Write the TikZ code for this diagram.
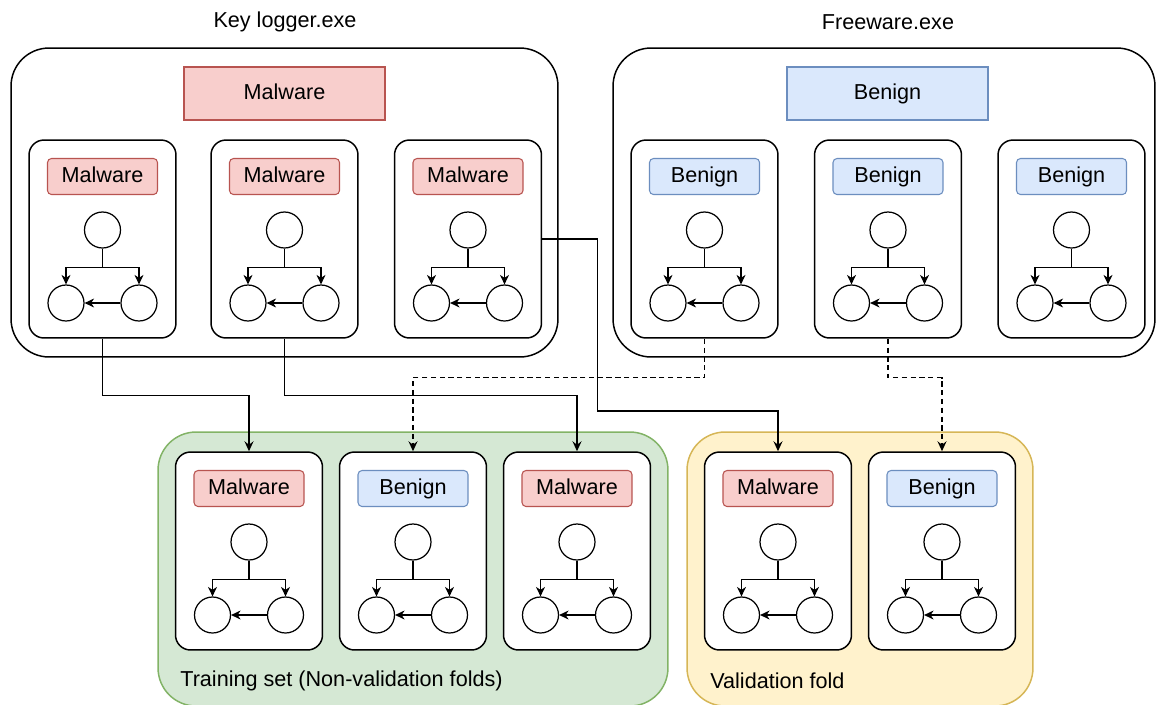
\documentclass[tikz,border=0pt]{standalone}
\usepackage{fontspec}
\setmainfont{Liberation Sans}
\usetikzlibrary{arrows.meta}

\definecolor{mal-fill}{HTML}{F8CECC}
\definecolor{mal-line}{HTML}{B85450}
\definecolor{ben-fill}{HTML}{DAE8FC}
\definecolor{ben-line}{HTML}{6C8EBF}
\definecolor{train-fill}{HTML}{D5E8D4}
\definecolor{train-line}{HTML}{82B366}
\definecolor{valid-fill}{HTML}{FFF2CC}
\definecolor{valid-line}{HTML}{D6B656}

\tikzset{
    every node/.style={font=\fontsize{12.3}{14}\selectfont},
    group/.style={draw,line width=0.85pt,rounded corners=0.76cm,inner sep=0pt},
    sample/.style={draw,fill=white,line width=0.85pt,rounded corners=0.3cm,inner sep=0pt,
                   minimum width=2.94cm,minimum height=3.96cm},
    label box/.style={line width=0.6pt,text height=9pt,text depth=2.6pt},
    tag/.style={label box,rounded corners=0.08cm,minimum width=2.2cm,minimum height=0.72cm},
    vertex/.style={draw,circle,line width=0.7pt,minimum size=0.72cm,inner sep=0pt},
    edge/.style={line width=0.7pt,-{Stealth[length=1.9mm,width=1.8mm,inset=0.6mm]}},
    flow/.style={line width=0.75pt,-{Stealth[length=2mm,width=1.8mm,inset=0.7mm]}},
}

\begin{document}
\begin{tikzpicture}[x=0.02cm,y=-0.02cm]
        \useasboundingbox (0,0) rectangle (1157,704);

        % Executables and folds
        \node (keylogger) at (284.5,202.5) [group,minimum width=10.94cm,minimum height=6.18cm] {};
        \node (freeware)  at (884,202.5)   [group,minimum width=10.84cm,minimum height=6.18cm] {};
        \node (train)     at (413,569)     [group,draw=train-line,fill=train-fill,minimum width=10.2cm,minimum height=5.48cm] {};
        \node (valid)     at (860,569)     [group,draw=valid-line,fill=valid-fill,minimum width=6.92cm,minimum height=5.48cm] {};

        \node (keytitle)   at (285,22) {Key logger.exe};
        \node (freetitle)  at (888,22) {Freeware.exe};
        \node (trainlabel) at (180,681) [anchor=west,inner sep=0pt] {Training set (Non-validation folds)};
        \node (validlabel) at (710,681) [anchor=west,inner sep=0pt] {Validation fold};

        \node (keyclass)  at (284.5,93.5) [label box,draw=mal-line,fill=mal-fill,minimum width=4.02cm,minimum height=1.06cm] {Malware};
        \node (freeclass) at (887.5,93.5) [label box,draw=ben-line,fill=ben-fill,minimum width=4.02cm,minimum height=1.06cm] {Benign};

        % One card per sample: class tag and its small graph
        \foreach \n/\x/\y/\c/\t in {k1/102.5/239/mal/Malware, k2/284.5/239/mal/Malware, k3/468/239/mal/Malware,
                                    f1/704.5/239/ben/Benign, f2/888/239/ben/Benign, f3/1071.5/239/ben/Benign,
                                    t1/249/551/mal/Malware, t2/413/551/ben/Benign, t3/577/551/mal/Malware,
                                    v1/778/551/mal/Malware, v2/942/551/ben/Benign} {
            \node (\n)       at (\x,\y)           [sample] {};
            \node (\n-tag)   at (\x,\y-62.5)      [tag,draw=\c-line,fill=\c-fill] {\t};
            \node (\n-top)   at (\x,\y-9)         [vertex] {};
            \node (\n-left)  at (\x-36.5,\y+64)   [vertex] {};
            \node (\n-right) at (\x+36.5,\y+64)   [vertex] {};
            \draw[edge] (\n-top.south) -- ++(0,19) -| (\n-left);
            \draw[edge] (\n-top.south) ++(0,19) -| (\n-right);
            \draw[edge] (\n-right) -- (\n-left);
        }

        % Samples sent to folds
        \draw[flow] (k1.south) -- ++(0,57) -| (t1.north);
        \draw[flow] (k2.south) -- ++(0,57) -| (t3.north);
        \draw[flow] (k3.east) -- ++(55,0) -- ++(0,172) -| (v1.north);
        \draw[flow,dash pattern=on 3pt off 2pt] (f1.south) -- ++(0,39) -| (t2.north);
        \draw[flow,dash pattern=on 3pt off 2pt] (f2.south) -- ++(0,39) -| (v2.north);
\end{tikzpicture}
\end{document}
